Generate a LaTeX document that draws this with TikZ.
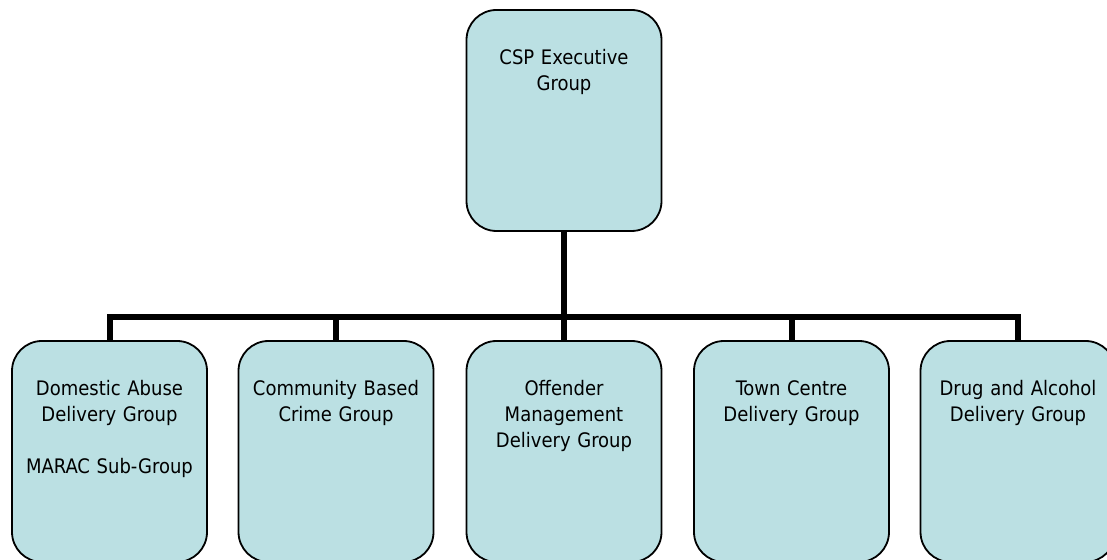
\documentclass[tikz,border=0pt]{standalone}
\usepackage{fontspec}
\setmainfont{DejaVu Sans Condensed}
\usetikzlibrary{calc}
\definecolor{groupfill}{RGB}{187,224,227}
\tikzstyle{groupbox}=[draw=black,line width=0.9pt,fill=groupfill,rounded corners=15pt,minimum width=97.5pt,minimum height=110.5pt,inner sep=0pt]
\tikzstyle{grouptext}=[align=center,text width=95pt,anchor=base,inner sep=0pt,font=\fontsize{10}{13}\selectfont]
\tikzstyle{link}=[line width=3pt]
\newcommand{\groupnode}[3]{% Syntax: {name}{centre}{label}
  \node[groupbox] (#1) at (#2) {};
  \node[grouptext] (#1-text) at ($(#1.north)+(0,55)$) {#3};
}

\begin{document}
\begin{tikzpicture}[x=0.5pt,y=-0.5pt]
  \clip (0,0) rectangle (1107,560);
  \groupnode{exec}{564,120.5}{CSP Executive\\Group}
  \groupnode{da}{109.5,451.5}{Domestic Abuse\\Delivery Group\\[13pt]MARAC Sub-Group}
  \groupnode{cbc}{336,451.5}{Community Based\\Crime Group}
  \groupnode{om}{564,451.5}{Offender\\Management\\Delivery Group}
  \groupnode{tc}{791.5,451.5}{Town Centre\\Delivery Group}
  \groupnode{dag}{1018,451.5}{Drug and Alcohol\\Delivery Group}
  % tree lines hang off one bar
  \coordinate (bus) at (564,317);
  \foreach \g in {da,cbc,om,tc,dag}
    \draw[link] (exec.south) |- (bus) -| (\g.north);
\end{tikzpicture}
\end{document}
